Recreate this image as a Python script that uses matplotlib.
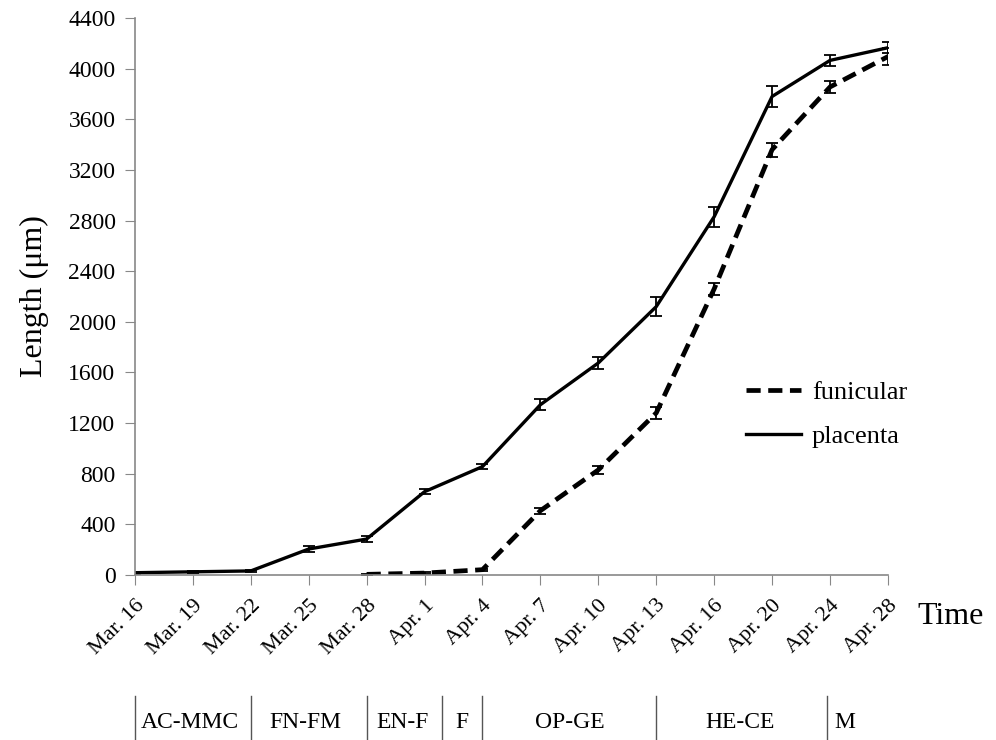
import matplotlib

matplotlib.use("Agg")
import matplotlib.pyplot as plt
import matplotlib.transforms as mtransforms
from matplotlib.lines import Line2D
import numpy as np

dates = ["Mar. 16", "Mar. 19", "Mar. 22", "Mar. 25", "Mar. 28", "Apr. 1", "Apr. 4",
         "Apr. 7", "Apr. 10", "Apr. 13", "Apr. 16", "Apr. 20", "Apr. 24", "Apr. 28"]

placenta = [18, 25, 32, 205, 284, 658, 856, 1345, 1675, 2120, 2830, 3780, 4065, 4165]
placenta_err = [8, 8, 8, 20, 20, 20, 20, 45, 45, 75, 80, 85, 45, 45]

# funicular starts at Mar. 28
funicular_dates = dates[4:]
funicular = [5, 15, 42, 508, 830, 1280, 2260, 3360, 3855, 4095]
funicular_err = [5, 5, 8, 25, 30, 45, 50, 55, 45, 70]

stage_bounds = [0, 2, 4, 5.3, 6, 9, 11.95]
stage_labels = ["AC-MMC", "FN-FM", "EN-F", "F", "OP-GE", "HE-CE", "M"]
stage_label_x = [0.95, 2.95, 4.62, 5.65, 7.5, 10.45, 12.25]

plt.rcParams["font.family"] = ["Liberation Serif", "DejaVu Serif"]

fig = plt.figure(figsize=(9.96, 7.4), dpi=100)
ax = fig.add_axes([0.1355, 0.223, 0.756, 0.7527])

x_all = np.arange(len(dates))
x_fun = np.array([dates.index(d) for d in funicular_dates])

fun_style = dict(color="black", linestyle=(0, (3, 1.6)), linewidth=3.4)
pla_style = dict(color="black", linestyle="-", linewidth=2.4)

ax.errorbar(x_fun, funicular, yerr=funicular_err, elinewidth=1.3, capsize=4, capthick=1.3,
            ecolor="black", **fun_style)
ax.errorbar(x_all, placenta, yerr=placenta_err, elinewidth=1.3, capsize=4, capthick=1.3,
            ecolor="black", **pla_style)

ax.set_xlim(0, len(dates) - 1)
ax.set_ylim(0, 4400)
ax.set_yticks(np.arange(0, 4401, 400))
ax.set_xticks(x_all)
ax.set_xticklabels(dates, rotation=45, ha="right", rotation_mode="anchor", fontsize=16)
ax.tick_params(axis="y", labelsize=17, length=7, color="#888888", pad=7)
ax.tick_params(axis="x", length=7, color="#888888", pad=8)

for side in ["top", "right"]:
    ax.spines[side].set_visible(False)
for side in ["left", "bottom"]:
    ax.spines[side].set_color("#888888")
    ax.spines[side].set_linewidth(1.2)

ax.set_ylabel("Length (μm)", fontsize=23, labelpad=14)
fig.text(0.921, 1 - 617 / 740, "Time", fontsize=23, ha="left", va="center")

handles = [Line2D([], [], **fun_style), Line2D([], [], **pla_style)]
ax.legend(handles, ["funicular", "placenta"], loc="upper left",
          bbox_to_anchor=(746 / 996, 1 - 381 / 740), bbox_transform=fig.transFigure,
          frameon=False, fontsize=19, handlelength=2.1, labelspacing=0.75,
          borderpad=0, borderaxespad=0, handletextpad=0.4)

# developmental stages below the date axis
trans = mtransforms.blended_transform_factory(ax.transData, fig.transFigure)
for b in stage_bounds:
    ax.plot([b, b], [1 - 696 / 740, 0], color="#555555", linewidth=1.0,
            transform=trans, clip_on=False)
for lx, lab in zip(stage_label_x, stage_labels):
    ax.text(lx, 1 - 722 / 740, lab, transform=trans, fontsize=17, ha="center", va="center")

fig.savefig("out.png", dpi=100)
